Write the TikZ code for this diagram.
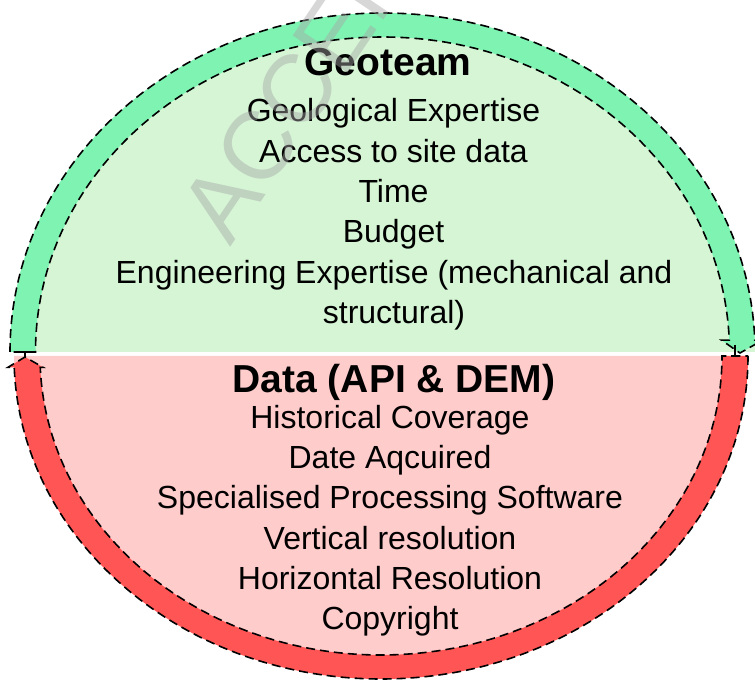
\documentclass[tikz,border=0pt]{standalone}
\usepackage{fontspec}
\setmainfont{Liberation Sans}
\definecolor{bandgreen}{RGB}{126,243,178}
\definecolor{fillgreen}{RGB}{213,245,213}
\definecolor{fillpink}{RGB}{255,204,204}
\definecolor{bandred}{RGB}{255,85,85}
\begin{document}
\begin{tikzpicture}[x=1pt,y=1pt,
  bandline/.style={draw=black, dash pattern=on 9pt off 5pt, line width=1.6pt},
  tick/.style={draw=black, line width=1.4pt},
  body/.style={font=\fontsize{32}{36}\selectfont, anchor=base, inner sep=0pt},
  head/.style={font=\bfseries\fontsize{39}{44}\selectfont, anchor=base, inner sep=0pt},
  wmark/.style={font=\fontsize{96}{100}\selectfont, text=black!35, opacity=0.45, anchor=base west, rotate=56, inner sep=0pt}]
\useasboundingbox (0,0) rectangle (755,680);
% half-ellipse fills
\fill[fillgreen] (10,328) arc[start angle=180,end angle=0,x radius=372.5,y radius=339] -- cycle;
\fill[fillpink] (14,324) arc[start angle=180,end angle=360,x radius=367,y radius=323] -- cycle;
% green curved arrow (over the top, ending at right)
\begin{scope}[shift={(382.5,328)}]
\filldraw[fill=bandgreen, bandline]
  (180:372.5 and 339) arc[start angle=180,end angle=2,x radius=372.5,y radius=339]
  -- (380,11.8) -- (357.5,-1) -- (339,11.8)
  -- (2.15:347 and 315) arc[start angle=2.15,end angle=180,x radius=347,y radius=315]
  -- cycle;
\end{scope}
% red curved arrow (round the bottom, ending at left)
\begin{scope}[shift={(381,324)}]
\filldraw[fill=bandred, bandline]
  (0:367 and 323) arc[start angle=0,end angle=-178,x radius=367,y radius=323]
  -- (-373,-11.3) -- (-356,-1) -- (-338,-11.3)
  -- (-177.83:341 and 299) arc[start angle=-177.83,end angle=0,x radius=341,y radius=299]
  -- cycle;
\end{scope}
% small connector ends
\coordinate (lt) at (25,328);
\coordinate (lb) at (25,323);
\coordinate (rt) at (735,335);
\coordinate (rb) at (735,324);
\draw[tick] (lt) -- (lb);
\draw[tick] ([xshift=-4pt]lt) -- ([xshift=4pt]lt);
\draw[tick] (rt) -- (rb);
\draw[tick] ([xshift=-4pt]rb) -- ([xshift=4pt]rb);
% texts
\node[head] (geo) at (388,604) {Geoteam};
\node[body] (g1) at (393.5,558) {Geological Expertise};
\node[body] (g2) at (393.5,517) {Access to site data};
\node[body] (g3) at (393.5,477) {Time};
\node[body] (g4) at (393.5,437) {Budget};
\node[body] (g5) at (394,396) {Engineering Expertise (mechanical and};
\node[body] (g6) at (394,356) {structural)};
\node[head] (data) at (394,287) {Data (API \& DEM)};
\node[body] (d1) at (390,251) {Historical Coverage};
\node[body] (d2) at (390,211) {Date Aqcuired};
\node[body] (d3) at (390,171) {Specialised Processing Software};
\node[body] (d4) at (390,130) {Vertical resolution};
\node[body] (d5) at (390,90) {Horizontal Resolution};
\node[body] (d6) at (390,50) {Copyright};
% watermark
\node[wmark] (wm) at (230,432) {ACCEPTED MANUSCRIPT};
\end{tikzpicture}
\end{document}
